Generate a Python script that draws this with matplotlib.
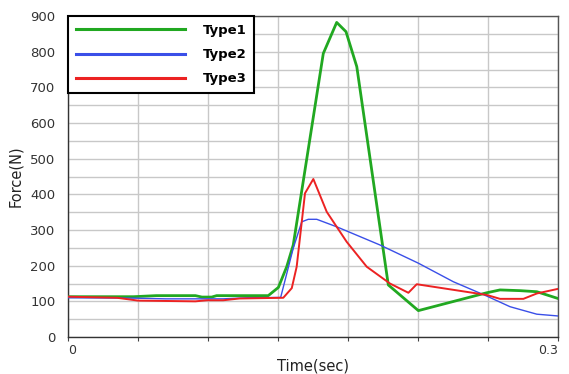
import matplotlib
matplotlib.use("Agg")
import matplotlib.pyplot as plt

# Type1
t1 = [0.0, 0.040, 0.054, 0.078, 0.082, 0.088, 0.091, 0.1226, 0.1288, 0.1339, 0.1379,
      0.1563, 0.1645, 0.1702, 0.1768, 0.1961, 0.2145, 0.2563, 0.2645, 0.2767, 0.2870, 0.3]
f1 = [113, 113, 116, 116, 112, 112, 116, 116, 139, 197, 258,
      795, 882, 856, 758, 146, 74, 124, 132, 130, 127, 108]
# Type2
t2 = [0.0, 0.040, 0.060, 0.095, 0.110, 0.1302, 0.1379, 0.1431, 0.1471, 0.1523, 0.1645,
      0.1910, 0.2145, 0.2359, 0.2563, 0.2706, 0.2870, 0.3]
f2 = [110, 109, 107, 107, 110, 111, 249, 323, 330, 330, 309,
      258, 207, 155, 115, 85, 64, 59]
# Type3
t3 = [0.0, 0.030, 0.043, 0.078, 0.085, 0.095, 0.105, 0.1318, 0.1370, 0.1400, 0.1451,
      0.1502, 0.1584, 0.1706, 0.1829, 0.1971, 0.2084, 0.2135, 0.2563, 0.2645, 0.2788,
      0.2870, 0.3]
f3 = [113, 110, 102, 100, 103, 103, 108, 110, 137, 197, 403,
      443, 351, 267, 197, 150, 124, 148, 118, 107, 107,
      122, 135]

labels = ["Type1", "Type2", "Type3"]
colors = ["#21a821", "#3a4fe8", "#ec2222"]

fig = plt.figure(figsize=(5.69, 3.74), dpi=100)
ax = fig.add_axes([0.1195, 0.0989, 0.8612, 0.8583])

ax.plot(t1, f1, color=colors[0], lw=2.0, label=labels[0], zorder=3)
ax.plot(t2, f2, color=colors[1], lw=1.0, label=labels[1], zorder=4)
ax.plot(t3, f3, color=colors[2], lw=1.4, label=labels[2], zorder=5)

ax.set_xlim(0, 0.3)
ax.set_ylim(0, 900)
xt = [0.3 * i / 7 for i in range(8)]
ax.set_xticks(xt)
ax.set_xticklabels(["0"] + [""] * 6 + ["0.3"])
xl = ax.get_xticklabels()
xl[0].set_ha("left")
xl[-1].set_ha("right")
ax.set_yticks(range(0, 1000, 100))
ax.set_yticks(range(50, 900, 100), minor=True)
ax.tick_params(axis="x", length=3, color="#444444", labelsize=9, labelcolor="#333333", pad=2)
ax.tick_params(axis="y", length=0, labelsize=9.5, labelcolor="#333333", pad=9)
ax.tick_params(axis="y", which="minor", length=0)
ax.grid(True, which="both", color="#c8c8c8", lw=1.0, zorder=0)
for s in ax.spines.values():
    s.set_color("#555555")
    s.set_linewidth(1.0)
ax.spines["left"].set_color("#333333")
ax.spines["bottom"].set_color("#333333")

ax.set_xlabel("Time(sec)", fontsize=10.5, color="#222222", labelpad=1)
ax.set_ylabel("Force(N)", fontsize=10.5, color="#222222", labelpad=5)

leg = ax.legend(loc="upper left", borderaxespad=0, handlelength=8.3, handletextpad=1.3,
                labelspacing=0.85, fancybox=False, framealpha=1, edgecolor="black",
                prop={"weight": "bold", "size": 9.5}, borderpad=0.6)
leg.get_frame().set_linewidth(1.5)
for h in leg.get_lines():
    h.set_linewidth(2.2)

fig.savefig("out.png", dpi=100)
